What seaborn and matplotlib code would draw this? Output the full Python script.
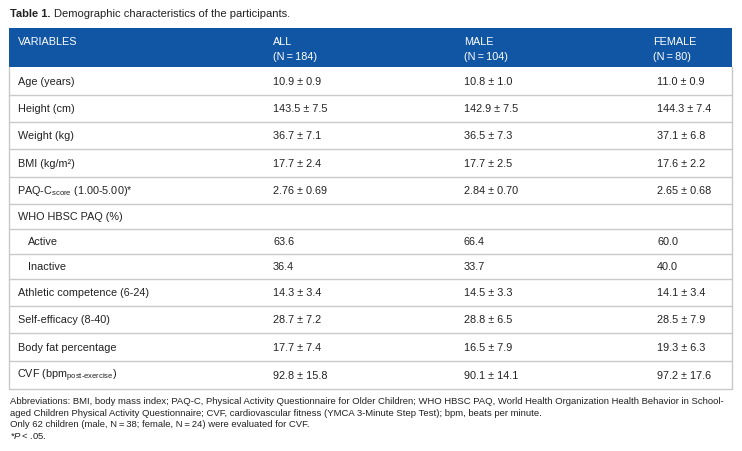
import matplotlib
matplotlib.use("Agg")
import matplotlib.pyplot as plt
import seaborn as sns

# table content
columns = ["VARIABLES", "ALL", "MALE", "FEMALE"]
group_n = ["", "(N\u2009=\u2009184)", "(N\u2009=\u2009104)", "(N\u2009=\u200980)"]
variables = [
    "Age (years)", "Height (cm)", "Weight (kg)", "BMI (kg/m\u00b2)",
    r"PAQ-C$_{\mathrm{score}}$ (1.00-5.00)*", "WHO HBSC PAQ (%)",
    "Active", "Inactive", "Athletic competence (6-24)", "Self-efficacy (8-40)",
    "Body fat percentage", r"CVF (bpm$_{\text{post-exercise}}$)",
]
indented = [False, False, False, False, False, False, True, True, False, False, False, False]
all_vals = ["10.9 \u00b1 0.9", "143.5 \u00b1 7.5", "36.7 \u00b1 7.1", "17.7 \u00b1 2.4",
            "2.76 \u00b1 0.69", "", "63.6", "36.4", "14.3 \u00b1 3.4", "28.7 \u00b1 7.2",
            "17.7 \u00b1 7.4", "92.8 \u00b1 15.8"]
male_vals = ["10.8 \u00b1 1.0", "142.9 \u00b1 7.5", "36.5 \u00b1 7.3", "17.7 \u00b1 2.5",
             "2.84 \u00b1 0.70", "", "66.4", "33.7", "14.5 \u00b1 3.3", "28.8 \u00b1 6.5",
             "16.5 \u00b1 7.9", "90.1 \u00b1 14.1"]
female_vals = ["11.0 \u00b1 0.9", "144.3 \u00b1 7.4", "37.1 \u00b1 6.8", "17.6 \u00b1 2.2",
               "2.65 \u00b1 0.68", "", "60.0", "40.0", "14.1 \u00b1 3.4", "28.5 \u00b1 7.9",
               "19.3 \u00b1 6.3", "97.2 \u00b1 17.6"]
footnotes = [
    "Abbreviations: BMI, body mass index; PAQ-C, Physical Activity Questionnaire for Older Children; "
    "WHO HBSC PAQ, World Health Organization Health Behavior in School-",
    "aged Children Physical Activity Questionnaire; CVF, cardiovascular fitness (YMCA 3-Minute Step Test); "
    "bpm, beats per minute.",
    "Only 62 children (male, N\u2009=\u200938; female, N\u2009=\u200924) were evaluated for CVF.",
    "*$\\mathit{P}$\u2009<\u2009.05.",
]

sns.set_theme(style="white")
plt.rcParams["font.family"] = ["Liberation Sans", "DejaVu Sans"]
plt.rcParams["mathtext.fontset"] = "custom"
plt.rcParams["mathtext.rm"] = "Liberation Sans"
plt.rcParams["mathtext.it"] = "Liberation Sans:italic"
plt.rcParams["mathtext.bf"] = "Liberation Sans:bold"

W, H = 742, 452
fig = plt.figure(figsize=(W / 100, H / 100), dpi=100)
ax = fig.add_axes([0, 0, 1, 1])
ax.set_xlim(0, W)
ax.set_ylim(H, 0)
ax.axis("off")

blue = "#1155a5"
grid = "#c9c9c9"
ink = "#222222"
left, right = 9, 732
col_x = [18, 273, 464, 653]
val_x = [273, 464, 657]
fs = 7.8

# title
ax.text(10, 14, "Table 1.", fontsize=8.0, fontweight="bold", color=ink, va="center")
ax.text(54, 14, "Demographic characteristics of the participants.", fontsize=8.0,
        color=ink, va="center")

# header band
head_top, head_bot = 29, 68
ax.add_patch(plt.Rectangle((left, head_top), right - left, head_bot - head_top,
                           color=blue, lw=0))
for x, c, n in zip(col_x, columns, group_n):
    ax.text(x, 42, c, fontsize=fs, color="white", va="center")
    if n:
        ax.text(x, 56.5, n, fontsize=fs, color="white", va="center")

# body rows
row_h = [28, 27, 27, 28, 27, 25, 25, 25, 27, 27, 28, 28]
y = head_bot
for i, var in enumerate(variables):
    h = row_h[i]
    yc = y + h / 2
    dx = 10 if indented[i] else 0
    if "$" in var:
        dx -= 1
    ax.text(col_x[0] + dx, yc, var, fontsize=fs, color=ink, va="center")
    for x, vals in zip(val_x, [all_vals, male_vals, female_vals]):
        ax.text(x, yc, vals[i], fontsize=fs, color=ink, va="center")
    y += h
    ax.plot([left, right], [y, y], color=grid, lw=1)
ax.plot([left, left], [head_bot, y], color=grid, lw=1)
ax.plot([right, right], [head_bot, y], color=grid, lw=1)

# footnotes
for k, line in enumerate(footnotes):
    ax.text(10, 402 + k * 11.3, line, fontsize=6.83, color=ink, va="center")

fig.savefig("out.png", dpi=100)
